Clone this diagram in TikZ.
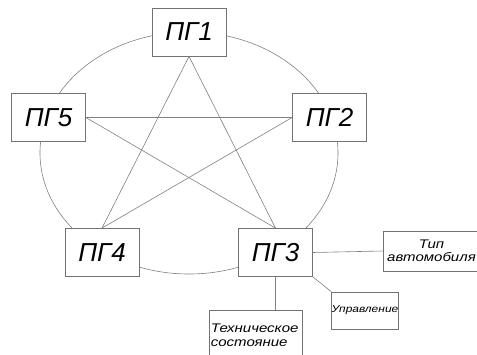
\documentclass[tikz,border=0pt]{standalone}
\usepackage{fontspec}
\setmainfont{Liberation Sans}
\newfontfamily\labfont[FakeStretch=1.2]{Liberation Sans}
\begin{document}
\begin{tikzpicture}[x=1pt,y=-1pt,
  ln/.style={draw=black!50, line width=0.6pt},
  pg/.style={draw=black!55, line width=0.8pt, fill=white, inner sep=0pt,
    minimum width=74pt, minimum height=48pt,
    font=\fontsize{26}{26}\selectfont\itshape},
  lab/.style={draw=black!55, line width=0.7pt, fill=white, inner sep=0pt,
    font=\labfont\fontsize{12.5}{13.5}\selectfont\itshape}]
\useasboundingbox (0,0) rectangle (477,354);
\clip (0,0) rectangle (477,354);
% ellipse
\draw[ln] (189,153) ellipse [x radius=149, y radius=121];
% boxes
\node[pg] (p1) at (189,32) {ПГ1};
\node[pg] (p5) at (48.5,117.5) {ПГ5};
\node[pg] (p2) at (329.5,117.5) {ПГ2};
\node[pg] (p4) at (102,252.5) {ПГ4};
\node[pg] (p3) at (275.5,252.5) {ПГ3};
% star
\draw[ln] (p1.south) -- (p4.north);
\draw[ln] (p1.south) -- (p3.north);
\draw[ln] (p5.east) -- (p2.west);
\draw[ln] (p5.east) -- (p3.north);
\draw[ln] (p2.west) -- (p4.north);
% labels
\node[lab, minimum width=97pt, minimum height=40pt, align=center] (tip) at (431.5,251) {Тип\\автомобиля};
\node[lab, minimum width=58pt, minimum height=37pt, font=\labfont\fontsize{10}{12}\selectfont\itshape] (upr) at (365,310.5) {Управление};
\node[lab, minimum width=93pt, minimum height=50pt, align=left, anchor=north west, text width=91pt] (teh) at (208.5,310) {\hspace*{1pt}Техническое\\\hspace*{1pt}состояние\\[4pt]};
% connectors
\draw[ln] (p3.east) -- (tip.west);
\draw[ln] (p3.south east) -- (upr.north west);
\draw[ln] (p3.south) -- (p3.south |- teh.north);
\end{tikzpicture}
\end{document}
